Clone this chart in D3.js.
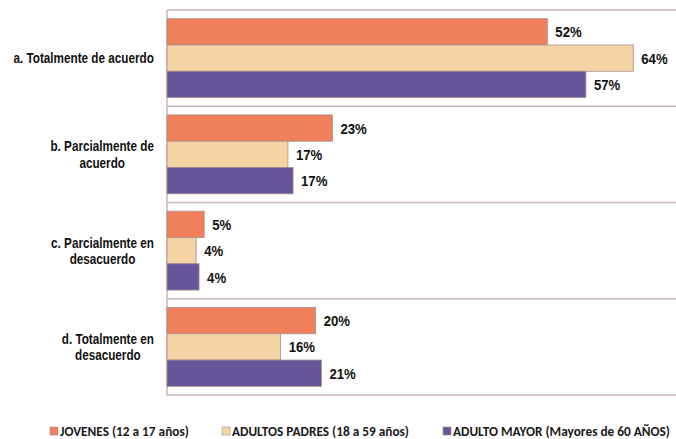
<!DOCTYPE html>
<html>
<head>
<meta charset="utf-8">
<script src="https://cdn.jsdelivr.net/npm/d3@7"></script>
<style>
  body { margin: 0; background: #fff; }
  svg { display: block; }
</style>
</head>
<body>
<div id="chartArea"></div>
<script>
// categories and series
var categories = [
  ["a. Totalmente de acuerdo"],
  ["b. Parcialmente de", "acuerdo"],
  ["c. Parcialmente en", "desacuerdo"],
  ["d. Totalmente en", "desacuerdo"]
]
var seriesNames = ["JOVENES (12 a 17 años)", "ADULTOS PADRES (18 a 59 años)", "ADULTO MAYOR (Mayores de 60 AÑOS)"]
var jovenes = [0.522, 0.227, 0.051, 0.204]
var padres = [0.640, 0.166, 0.040, 0.156]
var mayor = [0.575, 0.173, 0.044, 0.212]
var colors = ["#f07f5b", "#f5d3a4", "#665599"]

var width = 676, height = 439
var plotLeft = 167, plotRight = 677, plotTop = 10, plotBottom = 395
var narrow = 0.82 // horizontal squeeze to mimic a narrow bold font

var svg = d3.select('#chartArea')
  .append('svg')
  .attr('width', width)
  .attr('height', height)

var catIdx = categories.map((d, i) => i)

var x = d3.scaleLinear().domain([0, 0.7]).range([plotLeft, plotRight])
var y0 = d3.scaleBand().domain(catIdx).range([plotTop, plotBottom])
var y1 = d3.scaleBand().domain([0, 1, 2]).range([0, y0.bandwidth()]).paddingOuter(0.33)

// grid lines between categories
svg.append('g')
  .selectAll('line')
  .data(catIdx.concat([categories.length]))
  .enter()
  .append('line')
  .attr('x1', plotLeft)
  .attr('x2', width)
  .attr('y1', d => d < categories.length ? y0(d) : plotBottom)
  .attr('y2', d => d < categories.length ? y0(d) : plotBottom)
  .attr('stroke', '#cdb6b4')
  .attr('stroke-width', 1.3)

// vertical axis line
svg.append('line')
  .attr('x1', plotLeft).attr('x2', plotLeft)
  .attr('y1', plotTop).attr('y2', plotBottom)
  .attr('stroke', '#cdb6b4')
  .attr('stroke-width', 1.5)

var allSeries = [jovenes, padres, mayor]

var groups = svg.append('g')
  .selectAll('g')
  .data(catIdx)
  .enter()
  .append('g')
  .attr('transform', d => `translate(0,${y0(d)})`)

groups.selectAll('rect')
  .data(ci => allSeries.map((s, si) => ({ si: si, v: s[ci] })))
  .enter()
  .append('rect')
  .attr('x', plotLeft)
  .attr('y', d => y1(d.si))
  .attr('width', d => x(d.v) - plotLeft)
  .attr('height', y1.bandwidth())
  .attr('fill', d => colors[d.si])
  .attr('stroke', '#a48e8c')
  .attr('stroke-width', 0.8)

// value labels
groups.selectAll('text.val')
  .data(ci => allSeries.map((s, si) => ({ si: si, v: s[ci] })))
  .enter()
  .append('text')
  .attr('class', 'val')
  .attr('transform', d => `translate(${x(d.v) + 8},${y1(d.si) + y1.bandwidth() / 2}) scale(0.85,1)`)
  .attr('dy', '.36em')
  .text(d => Math.round(d.v * 100) + '%')
  .attr('font-family', "'Liberation Sans', Arial, sans-serif")
  .attr('font-weight', 'bold')
  .attr('font-size', '15.5px')
  .attr('fill', '#111')

// category labels
groups.each(function (ci) {
  var g = d3.select(this).append('g')
  var lines = categories[ci]
  var t = g.append('text')
    .attr('font-family', "'Liberation Sans', Arial, sans-serif")
    .attr('font-weight', 'bold')
    .attr('font-size', '14.3px')
    .attr('fill', '#111')
    .attr('text-anchor', 'middle')
  var lh = 16.5
  var startY = y0.bandwidth() / 2 - (lines.length - 1) * lh / 2
  lines.forEach((l, i) => {
    t.append('tspan').attr('x', 0).attr('y', startY + i * lh).attr('dy', '.36em').text(l)
  })
  var w = t.node().getBBox().width
  g.attr('transform', `translate(${154 - w * narrow / 2},0) scale(${narrow},1)`)
})

// legend
var legendX = [50, 222, 443]
var legend = svg.append('g')
  .selectAll('g')
  .data(seriesNames)
  .enter()
  .append('g')
  .attr('transform', (d, i) => `translate(${legendX[i]},427)`)

legend.append('rect')
  .attr('width', 8).attr('height', 8)
  .attr('fill', (d, i) => colors[i])
  .attr('stroke', '#a48e8c')
  .attr('stroke-width', 0.6)

legend.append('text')
  .attr('x', 10)
  .attr('y', 4)
  .attr('dy', '.36em')
  .text(d => d)
  .attr('font-family', "Carlito, Lato, sans-serif")
  .attr('font-weight', 'bold')
  .attr('font-size', '13.3px')
  .attr('fill', '#1a1a1a')
</script>
</body>
</html>
